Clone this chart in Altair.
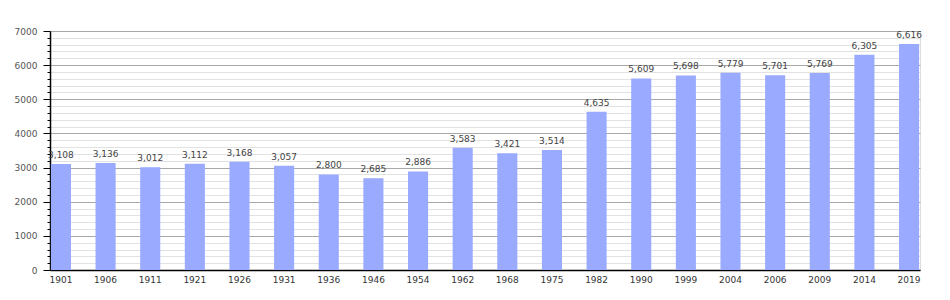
import altair as alt
import pandas as pd

years = ["1901", "1906", "1911", "1921", "1926", "1931", "1936", "1946", "1954", "1962",
         "1968", "1975", "1982", "1990", "1999", "2004", "2006", "2009", "2014", "2019"]
population = [3108, 3136, 3012, 3112, 3168, 3057, 2800, 2685, 2886, 3583,
              3421, 3514, 4635, 5609, 5698, 5779, 5701, 5769, 6305, 6616]
y_ticks = list(range(0, 7001, 200))

df = pd.DataFrame({"year": years, "pop": population})

font = "DejaVu Sans"

x = alt.X("year:N", sort=years, title=None,
          scale=alt.Scale(paddingInner=0.55, paddingOuter=0.02),
          axis=alt.Axis(labelAngle=0, ticks=False, labelFont=font, labelFontSize=9,
                        labelColor="#333", labelPadding=5, domainColor="#000",
                        domainWidth=1.5, grid=False))

y = alt.Y("pop:Q", title=None,
          scale=alt.Scale(domain=[0, 7000], nice=False),
          axis=alt.Axis(values=y_ticks, format="d",
                        labelExpr="datum.value % 1000 === 0 ? datum.label : ''",
                        labelFont=font, labelFontSize=9, labelColor="#555",
                        labelPadding=6, tickColor="#000",
                        tickSize={"expr": "datum.value % 1000 === 0 ? 7 : 3"},
                        domainColor="#000", domainWidth=1.5,
                        gridColor={"expr": "datum.value % 1000 === 0 ? '#a8a8a8' : '#e2e2e2'"},
                        gridWidth=1))

base = alt.Chart(df).encode(x=x, y=y)
bars = base.mark_bar(color="#99aaff")
text = base.mark_text(baseline="bottom", dy=-4, font=font, fontSize=9,
                      color="#444").encode(text=alt.Text("pop:Q", format=","))

chart = alt.layer(bars, text).properties(
    width=870, height=239,
    autosize=alt.AutoSizeParams(type="none"),
    padding={"left": 50, "top": 31, "right": 30, "bottom": 30},
).configure_view(stroke=None).configure(background="white")

chart.save("out.html", embed_options={"renderer": "svg", "actions": False})
